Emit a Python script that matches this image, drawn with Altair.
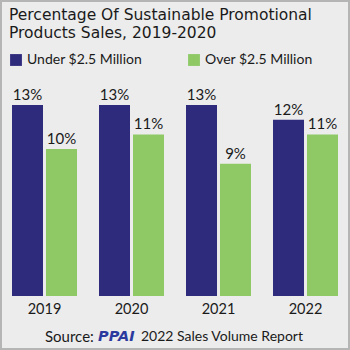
import altair as alt
import pandas as pd

years = ["2019", "2020", "2021", "2022"]
series = ["Under $2.5 Million", "Over $2.5 Million"]
under = [13, 13, 13, 12]
over = [10, 11, 9, 11]
colors = ["#2e2a7c", "#8ec965"]
title_lines = ["Percentage Of Sustainable Promotional", "Products Sales, 2019-2020"]
source_parts = ["Source:", "PPAI", "2022 Sales Volume Report"]

rows = []
for i, y in enumerate(years):
    rows.append({"year": y, "series": series[0], "value": under[i], "label": f"{under[i]}%"})
    rows.append({"year": y, "series": series[1], "value": over[i], "label": f"{over[i]}%"})
df = pd.DataFrame(rows)

FONT = "Lato"
TFONT = "DejaVu Sans"
INK = "#1a1a1a"

base = alt.Chart(df).encode(
    x=alt.X("year:N", sort=years,
            scale=alt.Scale(paddingInner=0.253, paddingOuter=0),
            axis=alt.Axis(title=None, labelAngle=0, domain=False, ticks=False,
                          labelFontSize=14.5, labelColor=INK, labelPadding=6,
                          labelFont=FONT)),
    xOffset=alt.XOffset("series:N", sort=series,
                        scale=alt.Scale(paddingInner=0.088, paddingOuter=0)),
)

bars = base.mark_bar().encode(
    y=alt.Y("value:Q", scale=alt.Scale(domain=[0, 13], nice=False),
            axis=None),
    color=alt.Color("series:N", sort=series,
                    scale=alt.Scale(domain=series, range=colors),
                    legend=alt.Legend(title=None, orient="none", legendX=-3, legendY=-52,
                                      direction="horizontal", columns=2,
                                      symbolType="square", symbolSize=140,
                                      symbolStrokeWidth=0, symbolOpacity=1,
                                      labelFontSize=14, labelFont=FONT,
                                      labelColor=INK, labelLimit=300,
                                      columnPadding=44, symbolOffset=0)),
)

labels = base.mark_text(baseline="bottom", dy=-2, fontSize=15, font=FONT,
                        color=INK).encode(
    y=alt.Y("value:Q"),
    text="label:N",
)

def text_layer(t, x, y, font=FONT, **kw):
    return alt.Chart(pd.DataFrame({"t": [t]})).mark_text(
        align="left", font=font, **kw
    ).encode(x=alt.value(x), y=alt.value(y), text="t:N")

title1 = text_layer(title_lines[0], -3, -85, font=TFONT, baseline="alphabetic",
                    fontSize=15.5, color=INK)
title2 = text_layer(title_lines[1], -3, -67, font=TFONT, baseline="alphabetic",
                    fontSize=15.5, color=INK)

src1 = text_layer(source_parts[0], 33, 232, baseline="middle", fontSize=15, color=INK)
src2 = text_layer(source_parts[1], 86, 232, font=TFONT, baseline="middle", fontSize=14.5,
                  fontWeight="bold", fontStyle="italic", color="#2b3a9e")
src3 = text_layer(source_parts[2], 129, 232, baseline="middle", fontSize=14, color=INK)

border = alt.Chart(pd.DataFrame({"a": [0]})).mark_rect(
    fill=None, stroke="#b5b5b5", strokeWidth=2
).encode(x=alt.value(-11), x2=alt.value(337), y=alt.value(-104), y2=alt.value(244))

chart = alt.layer(bars, labels, title1, title2, src1, src2, src3, border).properties(
    width=326, height=191,
    padding={"left": 12, "top": 105, "right": 12, "bottom": 54},
    autosize=alt.AutoSizeParams(type="none"),
    background="#ececec",
).configure_view(stroke=None)

chart.save("out.html", embed_options={"renderer": "svg", "actions": False})
